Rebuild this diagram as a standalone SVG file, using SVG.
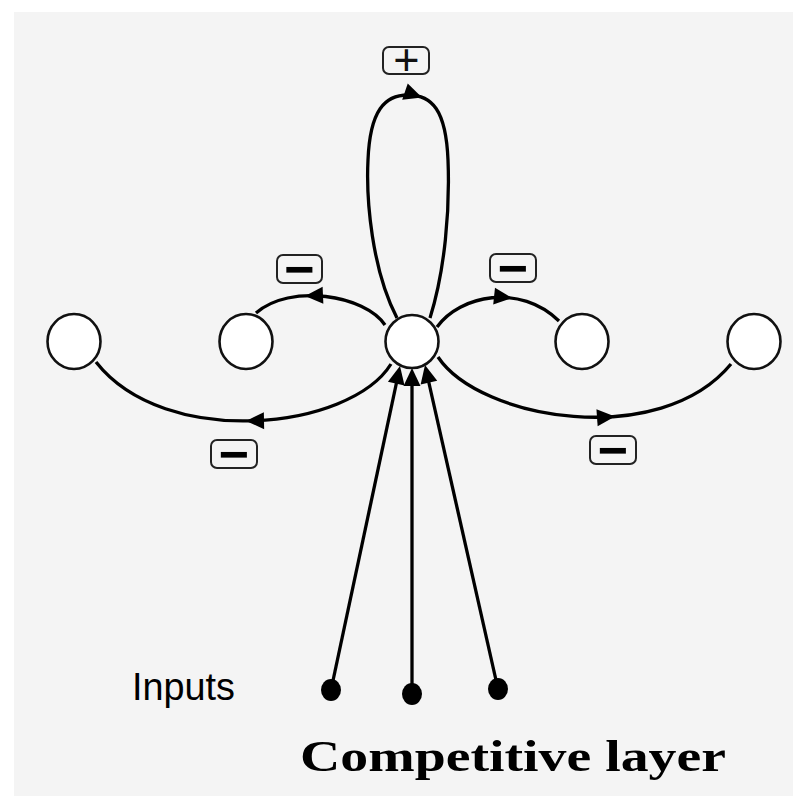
<svg xmlns="http://www.w3.org/2000/svg" xmlns:xlink="http://www.w3.org/1999/xlink" width="793" height="796" viewBox="0 0 793 796">
<defs>
<style>
.bg{fill:#f4f4f4}
.node{fill:#ffffff;stroke:#111;stroke-width:2.6}
.edge{fill:none;stroke:#000;stroke-width:3.3}
.ah{fill:#000}
.dot{fill:#000}
.box{fill:#f4f4f4;stroke:#222;stroke-width:2}
.plus{font-family:"Liberation Sans",Arial,sans-serif;font-size:45px;fill:#111;text-anchor:middle}
.minus{font-family:"Liberation Sans",Arial,sans-serif;font-weight:bold;font-size:52px;fill:#000;text-anchor:middle}
.inputs{font-family:"Liberation Sans",Arial,sans-serif;font-size:38px;fill:#000}
.title{font-family:"Liberation Serif","Times New Roman",serif;font-weight:bold;font-size:45px;fill:#000}
</style>
<path id="arrow" d="M0,0 L-18,-8.5 L-18,8.5 Z"/>
</defs>
<rect x="0" y="0" width="793" height="796" fill="#ffffff"/>
<rect class="bg" x="14" y="12" width="779" height="784"/>

<g id="connectors">
  <path class="edge" d="M397,318 C372,270 366,200 368,160 C370,110 385,95 408,95 C432,95 446,110 448,160 C450,210 445,270 430,318"/>
  <use class="ah" xlink:href="#arrow" href="#arrow" transform="translate(422,97.5) rotate(19)"/>
  <path class="edge" d="M385,325 C365,295 290,283 256,313"/>
  <use class="ah" xlink:href="#arrow" href="#arrow" transform="translate(305,296) rotate(177.5)"/>
  <path class="edge" d="M437,327 C460,295 520,283 559,321"/>
  <use class="ah" xlink:href="#arrow" href="#arrow" transform="translate(512,298) rotate(6)"/>
  <path class="edge" d="M391,364 C350,430 165,450 96,362"/>
  <use class="ah" xlink:href="#arrow" href="#arrow" transform="translate(246,421) rotate(179)"/>
  <path class="edge" d="M438,357 C480,420 660,450 731,364"/>
  <use class="ah" xlink:href="#arrow" href="#arrow" transform="translate(615,416.5) rotate(-4)"/>
  <line class="edge" x1="331" y1="690" x2="397.5" y2="378"/>
  <use class="ah" xlink:href="#arrow" href="#arrow" transform="translate(400,366) rotate(-77.9)"/>
  <line class="edge" x1="412" y1="694" x2="412" y2="380"/>
  <use class="ah" xlink:href="#arrow" href="#arrow" transform="translate(412,368) rotate(-90)"/>
  <line class="edge" x1="498" y1="689" x2="427.6" y2="377"/>
  <use class="ah" xlink:href="#arrow" href="#arrow" transform="translate(425,365) rotate(-102.6)"/>
</g>

<g id="node-far-left"><ellipse class="node" cx="74" cy="341.5" rx="26.5" ry="27.5"/></g>
<g id="node-near-left"><ellipse class="node" cx="246" cy="341.5" rx="26.5" ry="27.5"/></g>
<g id="node-center"><ellipse class="node" cx="412" cy="341.5" rx="26.5" ry="26.5"/></g>
<g id="node-near-right"><ellipse class="node" cx="582" cy="341.5" rx="26.5" ry="27.5"/></g>
<g id="node-far-right"><ellipse class="node" cx="754" cy="341.5" rx="26.5" ry="27.5"/></g>

<g id="input-1"><ellipse class="dot" cx="331" cy="690" rx="10" ry="11"/></g>
<g id="input-2"><ellipse class="dot" cx="412" cy="694" rx="10" ry="11"/></g>
<g id="input-3"><ellipse class="dot" cx="498" cy="689" rx="10" ry="11"/></g>

<g id="label-plus">
  <rect class="box" x="383" y="47" width="46" height="27" rx="6"/>
  <text class="plus" x="406.5" y="74.5">+</text>
</g>
<g id="label-minus-ul">
  <rect class="box" x="277" y="255" width="45" height="28" rx="6"/>
  <text class="minus" x="299.5" y="287">−</text>
</g>
<g id="label-minus-ur">
  <rect class="box" x="490" y="254" width="46" height="28" rx="6"/>
  <text class="minus" x="513" y="286">−</text>
</g>
<g id="label-minus-ll">
  <rect class="box" x="211" y="440" width="46" height="28" rx="6"/>
  <text class="minus" x="234" y="472">−</text>
</g>
<g id="label-minus-lr">
  <rect class="box" x="590" y="436" width="46" height="28" rx="6"/>
  <text class="minus" x="613" y="468">−</text>
</g>

<g id="label-inputs"><text class="inputs" x="132" y="700" textLength="103" lengthAdjust="spacingAndGlyphs">Inputs</text></g>
<g id="label-title"><text class="title" x="300" y="771" textLength="426" lengthAdjust="spacingAndGlyphs">Competitive layer</text></g>
</svg>
